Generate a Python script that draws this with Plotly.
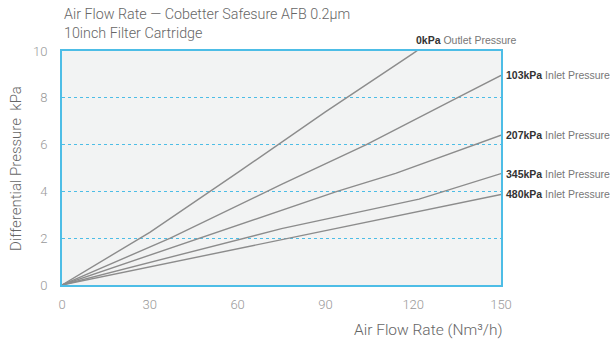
import plotly.graph_objects as go

flow = [0, 30, 60, 90, 120, 150]
dp_0kpa = [0, 2.25, 4.8, 7.4, 9.9, 12.5]
flow_103 = [0, 37, 75, 104, 135, 150]
dp_103 = [0, 2.0, 4.3, 6.0, 8.0, 8.96]
flow_207 = [0, 47, 75, 94, 114, 150]
dp_207 = [0, 2.0, 3.18, 4.0, 4.77, 6.4]
flow_345 = [0, 62, 75, 122, 150]
dp_345 = [0, 2.0, 2.41, 3.67, 4.76]
flow_480 = [0, 75, 120, 150]
dp_480 = [0, 1.92, 3.1, 3.87]

series = [
    ("0kPa", "Outlet Pressure", flow, dp_0kpa),
    ("103kPa", "Inlet Pressure", flow_103, dp_103),
    ("207kPa", "Inlet Pressure", flow_207, dp_207),
    ("345kPa", "Inlet Pressure", flow_345, dp_345),
    ("480kPa", "Inlet Pressure", flow_480, dp_480),
]

x_ticks = [0, 30, 60, 90, 120, 150]
y_ticks = [0, 2, 4, 6, 8, 10]

LINE = "#8c8c8c"
BLUE = "#4dbde6"
LABEL_FONT = dict(family="Liberation Sans, Arial", size=10.5, color="#777")

fig = go.Figure()
for name, kind, xs, ys in series:
    fig.add_trace(go.Scatter(x=xs, y=ys, mode="lines", name=name,
                             line=dict(color=LINE, width=1.4), showlegend=False))

for name, kind, xs, ys in series:
    text = f"<b><span style='color:#333'>{name}</span></b> {kind}"
    if name == "0kPa":
        fig.add_annotation(x=121.3, y=10, xref="x", yref="y", text=text,
                           showarrow=False, xanchor="left", yanchor="bottom", yshift=3, xshift=-3,
                           font=LABEL_FONT)
    else:
        fig.add_annotation(x=150, y=ys[-1], xref="x", yref="y", text=text,
                           showarrow=False, xanchor="left", yanchor="middle", xshift=3,
                           font=LABEL_FONT)

fig.add_annotation(x=1, y=-0.145, xref="paper", yref="paper", text="Air Flow Rate (Nm³/h)",
                   showarrow=False, xanchor="right", yanchor="top", xshift=4,
                   font=dict(family="Roboto", size=15.5, color="#666", weight=300))

fig.add_annotation(x=0, y=1, xref="paper", yref="paper",
                   text="Air Flow Rate — Cobetter Safesure AFB 0.2μm<br>10inch Filter Cartridge",
                   showarrow=False, xanchor="left", yanchor="bottom", yshift=8, align="left",
                   font=dict(family="Roboto", size=14.3, color="#666", weight=300))

fig.add_annotation(x=-0.105, y=0.5, xref="paper", yref="paper",
                   text="Differential Pressure  kPa", textangle=-90,
                   showarrow=False, xanchor="center", yanchor="middle",
                   font=dict(family="Roboto", size=15, color="#666", weight=300))

fig.update_layout(
    width=614, height=342,
    margin=dict(l=62, r=113, t=51, b=57, autoexpand=False),
    paper_bgcolor="white", plot_bgcolor="#f2f3f3",
    font=dict(family="Roboto", color="#999"),
)
fig.update_xaxes(range=[0, 150], tickvals=x_ticks, ticktext=[str(v) for v in x_ticks],
                 showgrid=False, zeroline=False, showline=True, linecolor=BLUE, linewidth=2,
                 mirror=True, ticks="", ticklabelstandoff=6, automargin=False,
                 tickfont=dict(family="Roboto", size=13, color="#999", weight=300))
fig.update_yaxes(range=[0, 10], tickvals=y_ticks, ticktext=[str(v) for v in y_ticks],
                 showgrid=True, gridcolor=BLUE, griddash="3px,3px", gridwidth=1,
                 zeroline=False, showline=True, linecolor=BLUE, linewidth=2,
                 mirror=True, ticks="", ticklabelstandoff=10, automargin=False,
                 tickfont=dict(family="Roboto", size=13, color="#999", weight=300))

fig.write_html("out.html", config={"displayModeBar": False},
               post_script="document.body.style.margin='0';document.body.style.overflow='hidden';")
